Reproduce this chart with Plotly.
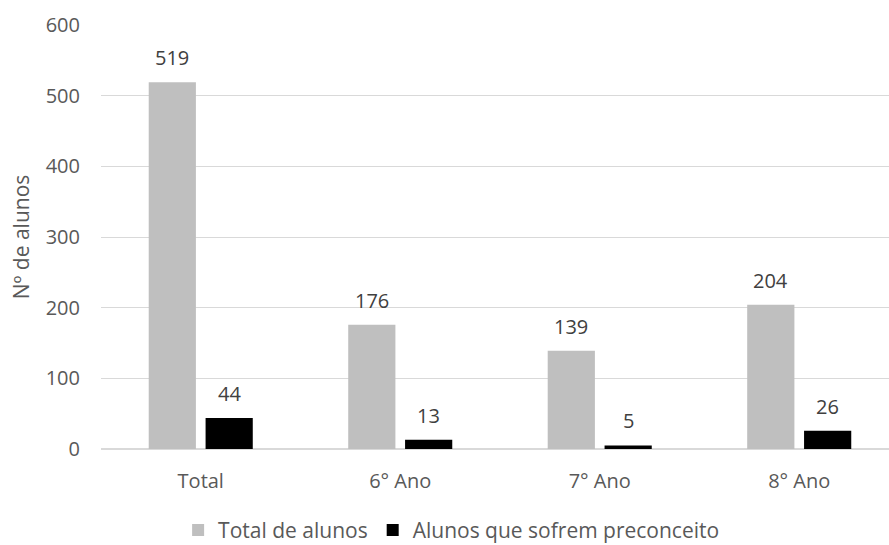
import plotly.graph_objects as go

categories = ["Total", "6° Ano", "7° Ano", "8° Ano"]
total_alunos = [519, 176, 139, 204]
alunos_preconceito = [44, 13, 5, 26]
series_names = ["Total de alunos", "Alunos que sofrem preconceito"]
series_colors = ["#bfbfbf", "#000000"]
y_ticks = [0, 100, 200, 300, 400, 500, 600]

FONT = "Open Sans"
FS = 20
BARGAP = 0.43
GROUPGAP = 0.17

fig = go.Figure()
series = [total_alunos, alunos_preconceito]
for name, vals, col in zip(series_names, series, series_colors):
    fig.add_trace(go.Bar(
        x=list(range(len(categories))), y=vals, name=name,
        marker=dict(color=col, line=dict(width=0)),
    ))

# value labels sitting above each bar
slot = (1 - BARGAP) / len(series)
for i, vals in enumerate(series):
    offset = (i - (len(series) - 1) / 2) * slot
    for j, v in enumerate(vals):
        fig.add_annotation(
            x=j + offset, y=v, text=str(v), showarrow=False,
            yanchor="bottom", yshift=9,
            font=dict(family=FONT, size=FS, color="#404040"),
        )

fig.update_layout(
    width=889, height=545,
    margin=dict(l=101, r=0, t=25, b=96, autoexpand=False),
    plot_bgcolor="white", paper_bgcolor="white",
    barmode="group", bargap=BARGAP, bargroupgap=GROUPGAP,
    font=dict(family=FONT, size=FS, color="#595959"),
    showlegend=True,
    legend=dict(orientation="h", x=0.508, xref="container", xanchor="center",
                y=0.027, yref="container", yanchor="middle",
                font=dict(family=FONT, size=21, color="#595959"),
                itemwidth=30, traceorder="normal"),
    xaxis=dict(
        tickmode="array", tickvals=list(range(len(categories))), ticktext=categories,
        range=[-0.5, 3.45], showgrid=False, zeroline=False,
        showline=False, ticks="", ticklabelstandoff=18,
        tickfont=dict(family=FONT, size=FS, color="#595959"),
    ),
    yaxis=dict(
        range=[0, 600], tickvals=y_ticks, showgrid=True, gridcolor="#d9d9d9",
        gridwidth=1, zeroline=True, zerolinecolor="#d9d9d9", zerolinewidth=1.5,
        showline=False, ticks="", ticklabelstandoff=20,
        tickfont=dict(family=FONT, size=FS, color="#595959"),
        title=dict(text="Nº de alunos", standoff=10,
                   font=dict(family=FONT, size=21, color="#595959")),
    ),
)

fig.write_html("out.html")
